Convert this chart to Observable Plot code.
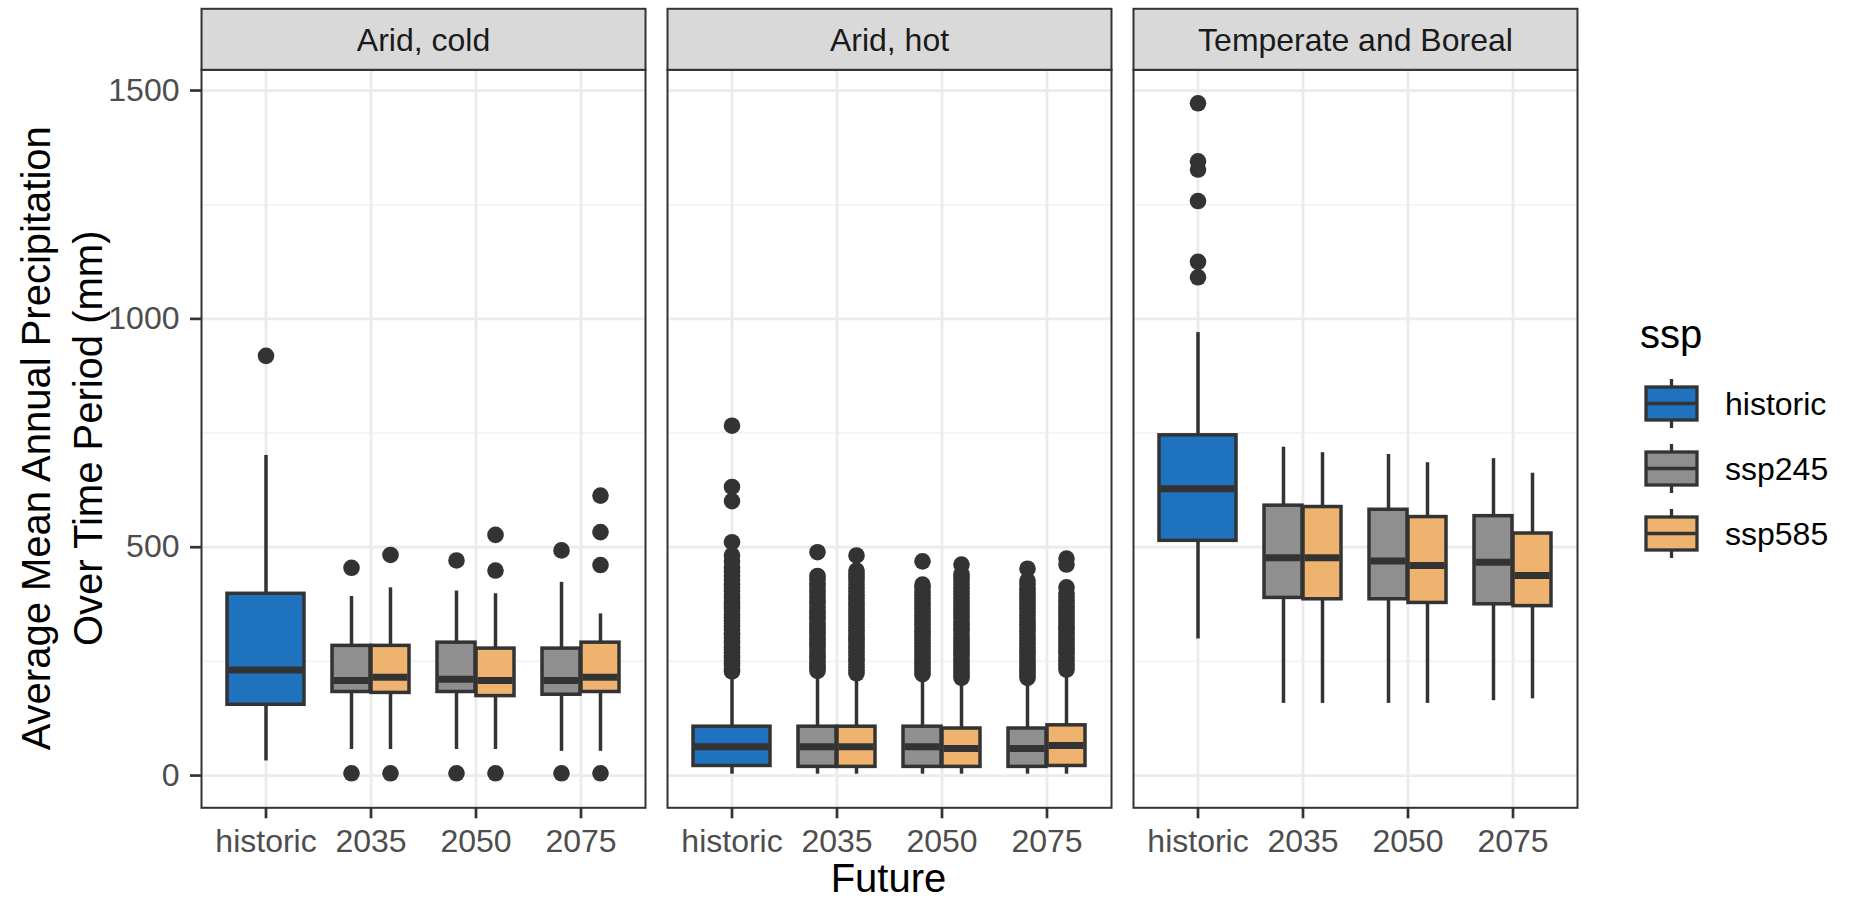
<!DOCTYPE html>
<html>
<head>
<meta charset="utf-8">
<script src="https://cdn.jsdelivr.net/npm/d3@7"></script>
<script src="https://cdn.jsdelivr.net/npm/@observablehq/plot@0.6"></script>
<style>
  body { margin: 0; background: #ffffff; }
  #wrap { position: relative; width: 1850px; height: 902px; background: #ffffff;
          font-family: "Liberation Sans", Arial, Helvetica, sans-serif; }
  #wrap > svg, #wrap > figure { position: absolute; left: 0; top: 0; margin: 0; }
</style>
</head>
<body>
<div id="wrap"></div>
<script>
// ---------------- data ----------------
const climates = ["Arid, cold", "Arid, hot", "Temperate and Boreal"];
const periods = ["historic", "2035", "2050", "2075"];
const ssps = ["historic", "ssp245", "ssp585"];
const sspColors = ["#1F72BE", "#8F8F8F", "#EDB36F"];
const yTicks = [0, 500, 1000, 1500];
const yMinorTicks = [250, 750, 1250];

// group order inside each climate
const groupPeriod = ["historic", "2035", "2035", "2050", "2050", "2075", "2075"];
const groupSsp = ["historic", "ssp245", "ssp585", "ssp245", "ssp585", "ssp245", "ssp585"];

// box statistics: Arid cold (7), Arid hot (7), Temperate and Boreal (7)
const lowerWhisker = [32, 57, 57, 57, 57, 53, 53,
                      3, 3, 3, 3, 3, 3, 3,
                      299, 158, 158, 158, 158, 164, 168];
const q1 = [155, 183, 181, 183, 174, 177, 183,
            21, 19, 19, 19, 19, 19, 21,
            514, 389, 386, 386, 378, 375, 371];
const median = [231, 208, 215, 211, 208, 208, 215,
                63, 63, 63, 63, 59, 59, 66,
                628, 477, 477, 470, 460, 467, 438];
const q3 = [398, 284, 284, 291, 278, 278, 291,
            107, 107, 107, 107, 103, 103, 110,
            745, 591, 588, 582, 566, 568, 530];
const upperWhisker = [701, 392, 411, 404, 398, 423, 354,
                      223, 223, 217, 217, 210, 210, 229,
                      970, 719, 707, 703, 685, 694, 662];

// outliers per group (same order)
const outliersCold = [
  [919], [455, 5], [483, 5], [471, 5], [527, 449, 5], [493, 5], [613, 533, 461, 5]
];
const outliersHot = [
  [228, 233, 241, 246, 252, 259, 263, 270, 276, 281, 289, 294, 301, 308, 312, 320, 327, 333, 340, 346,
   352, 361, 367, 374, 380, 389, 396, 404, 411, 419, 428, 437, 447, 455, 468, 482, 511, 601, 632, 766],
  [229, 236, 240, 248, 255, 261, 267, 274, 282, 287, 293, 300, 306, 314, 319, 327, 333, 341, 348, 354,
   361, 368, 376, 383, 390, 398, 405, 413, 421, 430, 437, 489],
  [224, 230, 237, 243, 251, 256, 263, 270, 277, 283, 290, 297, 303, 310, 318, 324, 331, 338, 345, 352,
   359, 366, 373, 380, 388, 395, 403, 410, 418, 426, 434, 441, 449, 482],
  [222, 228, 235, 242, 248, 255, 262, 269, 275, 283, 289, 296, 303, 310, 316, 323, 331, 338, 345, 351,
   358, 366, 373, 380, 388, 395, 403, 411, 418, 469],
  [214, 221, 227, 234, 241, 247, 254, 262, 268, 275, 282, 289, 296, 302, 309, 317, 323, 330, 337, 345,
   352, 359, 366, 373, 381, 388, 396, 403, 410, 418, 426, 434, 441, 462],
  [214, 220, 227, 233, 240, 247, 254, 261, 268, 274, 281, 289, 295, 302, 309, 316, 323, 330, 337, 344,
   351, 358, 366, 373, 380, 387, 395, 402, 410, 419, 427, 453],
  [232, 238, 245, 252, 258, 266, 272, 279, 286, 293, 300, 306, 314, 321, 327, 334, 341, 349, 356, 363,
   370, 377, 384, 392, 399, 412, 462, 475]
];
const outliersTemperate = [
  [1472, 1345, 1327, 1258, 1125, 1091], [], [], [], [], [], []
];

// ---------------- tables for the library ----------------
const allOutliers = [...outliersCold, ...outliersHot, ...outliersTemperate];
const boxes = lowerWhisker.map((lo, i) => ({
  climate: climates[Math.floor(i / 7)],
  period: groupPeriod[i % 7],
  ssp: groupSsp[i % 7],
  lo, q1: q1[i], med: median[i], q3: q3[i], hi: upperWhisker[i]
}));
const outlierRows = boxes.flatMap((b, i) =>
  allOutliers[i].map(v => ({climate: b.climate, period: b.period, ssp: b.ssp, value: v})));

// ---------------- layout / style ----------------
const W = 1850, H = 902;
const mLeft = 200, mRight = 273, mTop = 69.3, mBottom = 94.7;
const BW = 78;                       // box group width in px (x band width)
const fxScale = {domain: climates, paddingInner: 0.0482, paddingOuter: 0, axis: null};
const FONT = "'Liberation Sans', Arial, Helvetica, sans-serif";
const DARK = "#333333";
const place = {
  historic: {dx: 0, insetLeft: 0, insetRight: 0},
  ssp245: {dx: -BW / 4, insetLeft: 0, insetRight: BW / 2},
  ssp585: {dx: BW / 4, insetLeft: BW / 2, insetRight: 0}
};

const boxMarks = ssps.flatMap(s => {
  const p = place[s];
  const f = d => d.ssp === s;
  return [
    Plot.ruleX(boxes, {filter: f, fx: "climate", x: "period", y1: "q3", y2: "hi", dx: p.dx,
      stroke: DARK, strokeWidth: 3.5}),
    Plot.ruleX(boxes, {filter: f, fx: "climate", x: "period", y1: "lo", y2: "q1", dx: p.dx,
      stroke: DARK, strokeWidth: 3.5}),
    Plot.dot(outlierRows, {filter: f, fx: "climate", x: "period", y: "value", dx: p.dx,
      r: 8.3, fill: DARK, stroke: null}),
    Plot.barY(boxes, {filter: f, fx: "climate", x: "period", y1: "q1", y2: "q3", fill: "ssp",
      stroke: DARK, strokeWidth: 3.5, insetLeft: p.insetLeft, insetRight: p.insetRight}),
    Plot.tickY(boxes, {filter: f, fx: "climate", x: "period", y: "med",
      stroke: DARK, strokeWidth: 7, insetLeft: p.insetLeft + 1.5, insetRight: p.insetRight + 1.5})
  ];
});

const main = Plot.plot({
  width: W, height: H,
  marginLeft: mLeft, marginRight: mRight, marginTop: mTop, marginBottom: mBottom,
  style: {background: "transparent", fontFamily: FONT, overflow: "visible"},
  fx: fxScale,
  x: {domain: periods, paddingInner: 0.262, paddingOuter: 0.231},
  y: {domain: [-70.6, 1545.4]},
  color: {domain: ssps, range: sspColors},
  marks: [
    Plot.gridY(yMinorTicks, {stroke: "#F2F2F2", strokeOpacity: 1, strokeWidth: 1.6}),
    Plot.gridY(yTicks, {stroke: "#EBEBEB", strokeOpacity: 1, strokeWidth: 2.8}),
    Plot.gridX({stroke: "#EBEBEB", strokeOpacity: 1, strokeWidth: 2.8}),
    ...boxMarks,
    Plot.frame({stroke: DARK, strokeWidth: 2}),
    Plot.axisY({ticks: yTicks, tickSize: 11, text: null, stroke: DARK, strokeWidth: 2.7, label: null}),
    Plot.axisY({ticks: yTicks, tickSize: 0, tickPadding: 22, tickFormat: "d",
      fill: "#4D4D4D", fontSize: 32, label: null}),
    Plot.axisX({tickSize: 11, text: null, stroke: DARK, strokeWidth: 2.7, label: null}),
    Plot.axisX({tickSize: 0, tickPadding: 21, fill: "#4D4D4D", fontSize: 32, label: null})
  ]
});

const strip = Plot.plot({
  width: W, height: mTop,
  marginLeft: mLeft, marginRight: mRight, marginTop: 8.3, marginBottom: 0,
  style: {background: "transparent", fontFamily: FONT, overflow: "visible"},
  fx: fxScale,
  marks: [
    Plot.frame({fill: "#D9D9D9", stroke: DARK, strokeWidth: 2}),
    Plot.text(climates, {fx: d => d, text: d => d, frameAnchor: "middle",
      fontSize: 32, fill: "#1A1A1A", dy: 1})
  ]
});

const wrap = document.getElementById("wrap");
wrap.appendChild(main);
wrap.appendChild(strip);

// ---------------- titles & legend ----------------
const color = Plot.scale({color: {type: "ordinal", domain: ssps, range: sspColors}});
const svg = d3.select(wrap).append("svg")
  .attr("width", W).attr("height", H)
  .style("font-family", FONT).style("pointer-events", "none");

const yMid = (mTop + (H - mBottom)) / 2;
[["Average Mean Annual Precipitation", 50], ["Over Time Period (mm)", 102]].forEach(([t, x]) => {
  svg.append("text").attr("transform", `translate(${x},${yMid}) rotate(-90)`)
    .attr("text-anchor", "middle").attr("font-size", 40).attr("fill", "#000").text(t);
});
svg.append("text").attr("x", (mLeft + (W - mRight)) / 2).attr("y", 892)
  .attr("text-anchor", "middle").attr("font-size", 40).attr("fill", "#000").text("Future");

// legend
svg.append("text").attr("x", 1640).attr("y", 348).attr("font-size", 40).attr("fill", "#000").text("ssp");
const keyX = 1646, keyW = 51, keyH = 33, whisk = 8, key0 = 403.5, keyStep = 65;
ssps.forEach((s, i) => {
  const cy = key0 + i * keyStep;
  const g = svg.append("g");
  g.append("line").attr("x1", keyX + keyW / 2).attr("x2", keyX + keyW / 2)
    .attr("y1", cy - keyH / 2 - whisk).attr("y2", cy + keyH / 2 + whisk)
    .attr("stroke", DARK).attr("stroke-width", 3.3);
  g.append("rect").attr("x", keyX).attr("y", cy - keyH / 2).attr("width", keyW).attr("height", keyH)
    .attr("fill", color.apply(s)).attr("stroke", DARK).attr("stroke-width", 3.3);
  g.append("line").attr("x1", keyX).attr("x2", keyX + keyW).attr("y1", cy).attr("y2", cy)
    .attr("stroke", DARK).attr("stroke-width", 3.3);
  g.append("text").attr("x", 1725).attr("y", cy + 11.5).attr("font-size", 32).attr("fill", "#000").text(s);
});
</script>
</body>
</html>
